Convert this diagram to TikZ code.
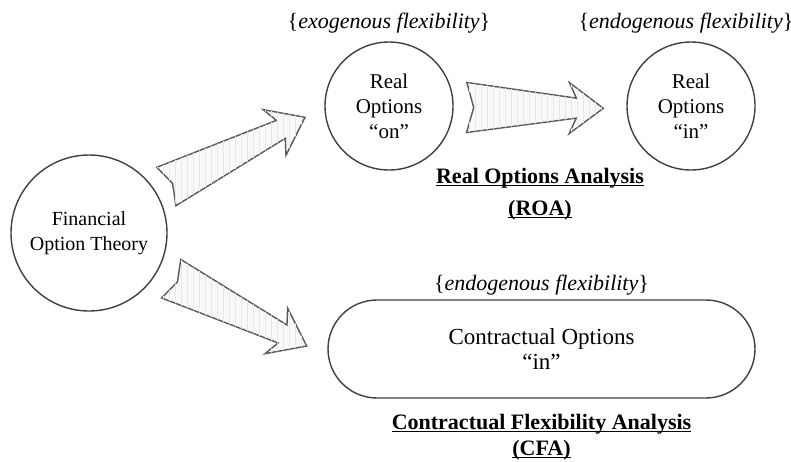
\documentclass[tikz,border=0pt]{standalone}
\usepackage{fontspec}
\setmainfont{Liberation Serif}
\usetikzlibrary{positioning}
\usetikzlibrary{calc}
\usetikzlibrary{patterns}
\usetikzlibrary{shapes.misc}
\tikzset {
  % outline shared by all option nodes
  option node/.style = {
    draw = black!75,
    line width = 0.7pt,
    align = center,
    inner sep = 0,
    font = \fontsize{10.5}{12.5}\selectfont
  },
  theory/.style = {
    option node,
    circle,
    minimum size = 78pt,
    font = \fontsize{10}{12.5}\selectfont
  },
  realopt/.style = {
    option node,
    circle,
    minimum size = 64pt
  },
  contract/.style = {
    option node,
    rounded rectangle,
    minimum width = 213.5pt,
    minimum height = 49pt,
    font = \fontsize{11.5}{12.5}\selectfont
  },
  % {... flexibility} captions
  flex/.style = {
    font = \fontsize{11}{13}\selectfont,
    inner sep = 0
  },
  % bold underlined titles
  analysis/.style = {
    font = \bfseries\fontsize{11}{13}\selectfont,
    align = center,
    inner sep = 0
  },
  % striped block arrow
  block arrow/.style = {
    draw = black!65,
    line width = 0.7pt,
    line join = miter,
    fill = gray!5,
    postaction = {pattern = vertical lines, pattern color = gray!18}
  },
  node distance = 4pt
}
% underline sitting close to the baseline
\newcommand{\undertext}[1]{%
  \setbox0\hbox{#1}\leavevmode\rlap{\rule[-1.3pt]{\wd0}{0.5pt}}\box0}
% block arrow from tail #1 to tip #2, tail half width #3
\newcommand{\blockarrow}[3]{%
  \coordinate (#1-head) at ($(#2)!17pt!(#1)$);
  \coordinate (#1-neck) at ($(#2)!13.5pt!(#1)$);
  \coordinate (#1-notch) at ($(#1)!3.5pt!(#2)$);
  \draw[block arrow]
    ($(#1)!#3!90:(#2)$)
    -- ($(#1-neck)!5pt!90:(#2)$)
    -- ($(#1-head)!12.75pt!90:(#2)$)
    -- (#2)
    -- ($(#1-head)!12.75pt!-90:(#2)$)
    -- ($(#1-neck)!5pt!-90:(#2)$)
    -- ($(#1)!#3!-90:(#2)$)
    -- (#1-notch)
    -- cycle;
}

\begin{document}
\begin{tikzpicture}[x=0.5pt, y=-0.5pt]
  \useasboundingbox (0,0) rectangle (791,461);

  \node[theory] (fot) at (89,233) {Financial\\Option Theory};
  \node[realopt] (ron) at (389,106) {Real\\Options\\``on''};
  \node[realopt] (rin) at (691,106) {Real\\Options\\``in''};
  \node[contract] (co) at (541.5,349) {Contractual Options\\``in''};

  \node[flex, above=of ron] (ron-flex) {\{\textit{exogenous flexibility}\}};
  \node[flex, above=of rin, xshift=-2.5pt] (rin-flex) {\{\textit{endogenous flexibility}\}};
  \node[flex, above=2pt of co] (co-flex) {\{\textit{endogenous flexibility}\}};

  \node[analysis, anchor=north] (roa) at ($(ron)!0.5!(rin)+(0,62)$)
    {\undertext{Real Options Analysis}\\[3pt]\undertext{(ROA)}};
  \node[analysis, below=7.5pt of co] (cfa)
    {\undertext{Contractual Flexibility Analysis}\\\undertext{(CFA)}};

  \coordinate (up) at (166.3,186.5);
  \coordinate (up-tip) at (305,117.3);
  \coordinate (down) at (171.2,278.7);
  \coordinate (down-tip) at (306.7,346);
  \coordinate (mid) at (466.7,107.5);
  \coordinate (mid-tip) at (603.3,108.3);

  \blockarrow{up}{up-tip}{10.75pt}
  \blockarrow{down}{down-tip}{10.75pt}
  \blockarrow{mid}{mid-tip}{12.5pt}
\end{tikzpicture}
\end{document}
